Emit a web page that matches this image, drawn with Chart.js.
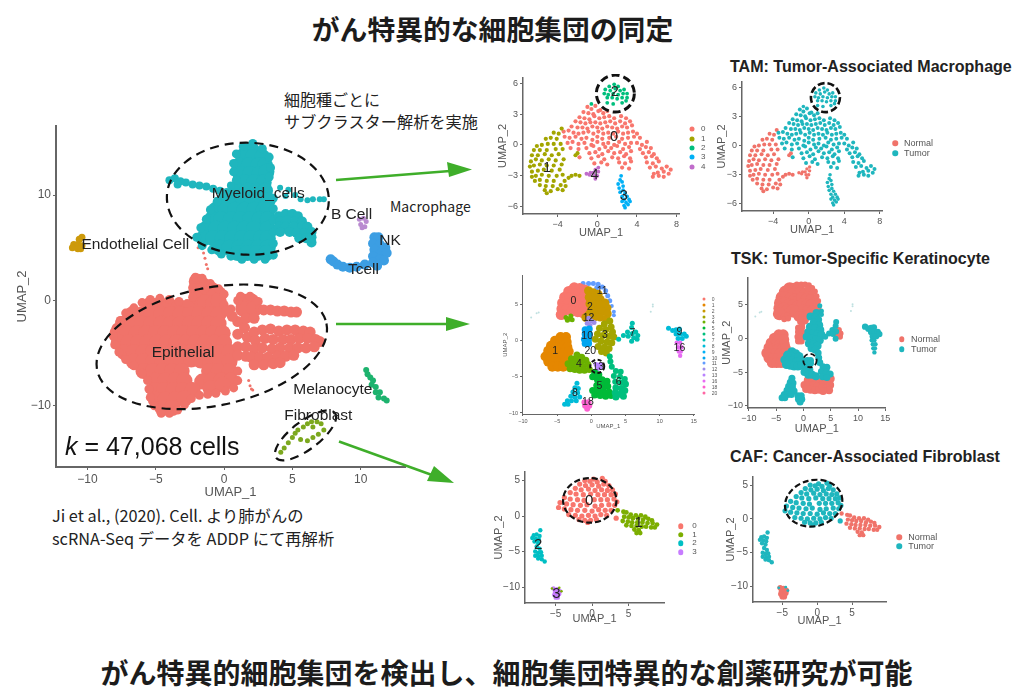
<!DOCTYPE html>
<html>
<head>
<meta charset="utf-8">
<script src="https://cdn.jsdelivr.net/npm/chart.js"></script>
<style>
  body{margin:0;background:#fff;width:1024px;height:698px;overflow:hidden;position:relative;font-family:"Noto Sans CJK JP","Noto Sans",sans-serif;color:#222}
  canvas{position:absolute;filter:blur(.55px)}
  .t{position:absolute;white-space:nowrap;transform:translateY(-50%);line-height:1.2}
  .h{font:bold 27.8px "Noto Sans CJK JP";color:#1c1c1c;transform:translate(-50%,-50%)}
  .p{font:bold 16.05px "Liberation Sans";color:#222}
  .lg{position:absolute;color:#555;font-family:"Liberation Sans";white-space:nowrap;transform:translateY(-50%);line-height:1.2;filter:blur(.3px)}
  .dot{position:absolute;border-radius:50%;transform:translate(-50%,-50%)}
  svg{position:absolute;left:0;top:0}
</style>
</head>
<body>
<div class="t h" style="left:492.5px;top:28px">がん特異的な細胞集団の同定</div>
<div class="t h" style="left:506.5px;top:672px;font-size:28px">がん特異的細胞集団を検出し、細胞集団特異的な創薬研究が可能</div>
<div class="t" style="left:284px;top:100px;font-size:16px">細胞種ごとに</div>
<div class="t" style="left:284px;top:122px;font-size:16.2px">サブクラスター解析を実施</div>
<div class="t" style="left:390px;top:206px;font-size:14px">Macrophage</div>
<div class="t" style="left:52px;top:516px;font-size:16.3px">Ji et al., (2020). Cell. より肺がんの</div>
<div class="t" style="left:52px;top:539px;font-size:16.3px">scRNA-Seq データを ADDP にて再解析</div>
<div class="t p" style="left:730px;top:66px">TAM: Tumor-Associated Macrophage</div>
<div class="t p" style="left:731px;top:258px">TSK: Tumor-Specific Keratinocyte</div>
<div class="t p" style="left:730px;top:456px">CAF: Cancer-Associated Fibroblast</div>

<script>
// ---- overview UMAP
const epithelialCore=[[-2,1.8],[-1.5,1.4],[-0.9,1],[-0.4,0.6],[-2,0.9],[-1.4,0.6],[-0.8,0.3],[-2,0.1],[-1.4,-0.2],[-0.8,-0.3],[-0.4,0],[1.4,-0.1],[2,-0.1],[1.4,-0.8],[2.2,-0.8],
[-5.4,-0.4],[-4.7,-0.4],[-4,-0.5],[-3.3,-0.6],[-2.6,-0.8],
[-6.7,-1.3],[-6,-1.3],[-5.3,-1.3],[-4.6,-1.3],[-3.9,-1.3],[-3.2,-1.3],[-2.5,-1.3],[-1.8,-1.3],[-1.1,-1.3],[-0.4,-1.3],
[-7.4,-2.2],[-6.7,-2.2],[-6,-2.2],[-5.3,-2.2],[-4.6,-2.2],[-3.9,-2.2],[-3.2,-2.2],[-2.5,-2.2],[-1.8,-2.2],[-1.1,-2.2],[-0.4,-2.2],
[-7.8,-3.1],[-7.1,-3.1],[-6.4,-3.1],[-5.7,-3.1],[-5,-3.1],[-4.3,-3.1],[-3.6,-3.1],[-2.9,-3.1],[-2.2,-3.1],[-1.5,-3.1],[-0.8,-3.1],[-0.1,-3.1],
[-7.7,-4],[-7,-4],[-6.3,-4],[-5.6,-4],[-4.9,-4],[-4.2,-4],[-3.5,-4],[-2.8,-4],[-2.1,-4],[-1.4,-4],[-0.7,-4],[0,-4],
[-7.3,-4.9],[-6.6,-4.9],[-5.9,-4.9],[-5.2,-4.9],[-4.5,-4.9],[-3.8,-4.9],[-3.1,-4.9],[-2.4,-4.9],[-1.7,-4.9],[-1,-4.9],[-0.3,-4.9],[0.4,-4.9],
[-6.6,-5.8],[-5.9,-5.8],[-5.2,-5.8],[-4.5,-5.8],[-3.8,-5.8],[-3.1,-5.8],[-2.4,-5.6],[-1.7,-5.7],[-1,-5.8],[-0.3,-5.8],[0.4,-5.8],
[-5.9,-6.7],[-5.2,-6.7],[-4.5,-6.7],[-3.8,-6.7],[-3.1,-6.7],[-1.1,-6.7],[-0.4,-6.7],[0.4,-6.7],
[-5,-7.6],[-4.3,-7.6],[-3.6,-7.6],[-2.9,-7.6],[-1.6,-7.7],[-0.9,-7.6],[-0.2,-7.6],[0.5,-7.6],
[-5.1,-8.5],[-4.4,-8.5],[-3.7,-8.5],[-3,-8.5],[-2.3,-8.5],[-1,-8.3],[-0.1,-8],
[-5,-9.4],[-4.3,-9.4],[-3.6,-9.4],[-2.9,-9.3],[-4.5,-10.2],[-3.8,-10.2]];
const epithelialRim=[[-8.1,-3.4],[-7.9,-2.6],[-7.6,-1.9],[-7.2,-1.2],[-6.6,-0.7],[-6,-0.2],[-5.4,0.1],[-4.7,0.2],[-4,0.1],[-3.3,-0.1],[-2.7,-0.3],[-2.3,0.3],[-2.3,1.2],[-2.1,2.2],[-1.6,2.1],[-1,1.6],[-0.4,1.1],[0,0.6],[0,-0.4],[0.5,-0.8],[1,0],[1.2,0.4],[1.9,0.4],[2.5,-0.1],[2.6,-0.8],[-8,-4.2],[-7.7,-4.9],[-7.2,-5.6],[-6.6,-6.2],[-6,-6.9],[-5.6,-7.6],[-5.5,-8.4],[-5.4,-9.2],[-5.1,-10],[-4.6,-10.7],[-4,-10.7],[-3.4,-10.4],[-2.9,-9.9],[-2.4,-9.3],[-1.8,-9],[-1.2,-8.9],[-0.6,-8.8],[0.1,-8.6],[0.7,-8.3],[1,-7.6],[1,-6.7]];
const epithelialArm=[[2.9,-0.9],[3.4,-0.9],[3.9,-1],[4.4,-1],[4.9,-1.1],[5.3,-1.1],[1,-2],[1.5,-2.6],[1,-3.2],[1.7,-3.5],[1,-4.4],[1.6,-4.4],[1,-5.2],[1.6,-5.3],[2.2,-3],[2.8,-2.8],[3.4,-2.7],[4,-2.9],[4.6,-2.8],[5.2,-2.8],[5.8,-2.9],[6.3,-3],[2.3,-3.8],[3,-3.6],[3.6,-3.7],[4.3,-3.7],[4.9,-3.7],[5.5,-3.6],[6.1,-3.6],[6.7,-3.7],[7,-3.9],[2.2,-4.6],[2.8,-4.5],[3.5,-4.6],[4.1,-4.5],[4.8,-4.5],[5.4,-4.5],[6,-4.5],[6.6,-4.4],[2,-5.4],[2.6,-5.4],[3.2,-5.4],[3.9,-5.3],[4.5,-5.3],[5.1,-5.2],[2.2,-6.1],[2.9,-6.1],[3.6,-6],[4.1,-5.9],[0.6,-1.5],[0.2,-1],[1.6,-1.7],[2.2,-1.7]];
const epithelialStray=[[1.8,-7.6],[1.9,-8.1],[2.1,-8.5],[2,-8.4],[-1.5,4.5],[-1.4,4],[-1.3,3.4],[-1.2,3],[-1.9,5]];
const myeloidCore=[[2,14.3],[1.4,13.7],[2.1,13.6],[2.8,13.6],[1.1,12.8],[1.8,12.8],[2.5,12.8],[3,12.8],[1.2,12],[1.9,12],[2.6,12],[3.1,12.2],[1.5,11.2],[2.2,11.2],[2.9,11.2],
[1,10.4],[1.7,10.4],[2.4,10.4],[3,10.4],[0,9.5],[0.7,9.5],[1.4,9.5],[2.1,9.5],[2.8,9.5],[3.2,9.5],[-0.6,8.6],[0.1,8.6],[0.8,8.6],[1.5,8.6],[2.2,8.6],[2.9,8.6],[3.2,8.6],
[-0.9,7.7],[-0.2,7.7],[0.5,7.7],[1.2,7.7],[1.9,7.7],[2.6,7.7],[3.2,7.7],[-1.3,6.8],[-0.6,6.8],[0.1,6.8],[0.8,6.8],[1.5,6.8],[2.2,6.8],[3.2,6.8],[-1.5,5.9],[-0.8,5.9],[-0.1,5.9],[0.6,5.9],[1.3,5.9],[2,5.9],[2.7,5.9],[3.2,5.9],
[-0.3,5],[0.4,5],[1.1,5],[1.8,5],[2.5,5],[3.2,5],[1,4.5],[1.7,4.5],[2.4,4.5],[3.1,4.5]];
const myeloidRim=[[0.7,13],[0.9,13.9],[1.4,14.6],[2.1,14.9],[2.8,14.4],[3.3,13.6],[3.4,12.6],[3.3,11.7],[0.7,12.2],[0.9,11.4],[0.5,10],[-0.5,9.4],[-1,8.6],[-1.3,7.7],[-1.7,6.9],[-2,6],[-1.6,5.2],[-0.9,4.8],[-0.2,4.4],[0.5,4.2],[1.3,3.9],[2.2,3.9],[3,3.9],[3.6,4.3],[3.6,5.4],[3.6,6.5],[3.6,7.6],[3.6,8.7],[3.6,9.7]];
const myeloidArm=[[-4,11.4],[-3.6,11.6],[-3.2,11.3],[-3.4,11],[-2.8,11.2],[-2.3,11],[-1.8,10.9],[-1.3,10.8],[-0.8,10.6],[-0.3,10.4],[0.2,10.3],[0.5,10.9]];
const myeloidLobe=[[4,8],[4.5,8.2],[5,8.2],[5.4,8],[4.1,7.5],[4.6,7.6],[5.2,7.5],[5.7,7.5],[4,7],[4.5,7],[5.1,7],[5.7,7],[6.1,7],[4.1,6.5],[4.8,6.5],[5.3,6.4],[5.9,6.4],[6.4,6.5],[5.5,5.9],[6,5.9],[6.4,5.5],[6.4,6]];
const myeloidTail=[[4.1,10.7],[4.7,10.5],[5.2,10],[4.5,9.9],[5.6,9.6],[6.5,9.6],[7,9.6],[7.3,9.6],[6.1,9.5]];
const endothelial=[[-11,5.3],[-10.7,5.3],[-10.4,5.2],[-10.6,5.8],[-10.4,6],[-11.1,5],[-10.7,4.9],[-10.5,4.9]];
const bCell=[[9.9,7.7],[10.2,7.8],[10.4,7.5],[10,7.2],[10.3,7],[10.1,6.9]];
const tNk=[[11,6],[11.3,6],[10.9,5.4],[11.4,5.3],[11.8,5],[11,4.8],[11.5,4.5],[11.9,4.5],[10.9,4.2],[11.4,3.9],[11.7,3.8],[10.9,3.6],[11.2,3.3],[10.3,3.4],[9.7,3.2],[9.2,3.1],[8.7,3.2],[8.3,3.4],[8,3.7],[7.8,3.9]];
const melanocyte=[[10.4,-6.6],[10.5,-7],[10.7,-7.3],[10.9,-7.6],[10.8,-8],[11.1,-8.2],[11.1,-8.7],[11.4,-8.7],[11.3,-9.2],[11.7,-9.3],[11.9,-9.5]];
const fibroblastMain=[[4.15,-14.4],[4.4,-14],[4.7,-13.5],[5,-13],[5.2,-12.6],[5.4,-12.3],[5.8,-12],[6.1,-11.7],[6.4,-11.5],[6.8,-11.5],[7.1,-11.7],[6.5,-12],[6.1,-13.3],[6.5,-13],[6.9,-12.7],[7.3,-12.3],[5.6,-13.2]];
// ---- macrophage clusters
const mac0=[[-1,3.7],[-0.6,3.5],[-0.2,3.8],[0.3,3.4],[-1.4,3.2],[-0.9,3.1],[-0.4,3],[0.1,3.3],[0.6,3.1],[1,3.3],[-1.8,2.7],[-1.3,2.6],[-0.8,2.5],[-0.3,2.8],[0.2,2.6],[0.7,2.7],[1.2,2.8],[1.7,2.6],[2.4,2.8],[2.9,2.6],[-2.2,2.3],[-1.7,2.2],[-1.2,2.1],[-0.7,2.2],[-0.2,2.2],[0.3,2.1],[0.8,2.2],[1.3,2.3],[1.8,2.1],[2.3,2.3],[2.8,2.1],[3.3,2.3],[-2.6,1.8],[-2,1.7],[-1.5,1.7],[-1,1.6],[-0.5,1.8],[0,1.7],[0.5,1.6],[1,1.8],[1.5,1.7],[2,1.6],[2.5,1.8],[3,1.7],[3.5,1.9],[-3.4,1.3],[-2.9,1.4],[-2.4,1.2],[-1.9,1.1],[-1.4,1.2],[-0.9,1.3],[-0.4,1.1],[0.1,1.3],[0.6,1.1],[1.1,1.2],[1.6,1.1],[2.1,1.3],[2.6,1.1],[3.1,1.2],[3.6,1.3],[4,1.1],[-3.3,0.8],[-2.8,0.7],[-2.2,0.8],[-1.6,0.6],[-1.1,0.7],[-0.5,0.5],[0,0.8],[0.5,0.6],[1.2,0.7],[1.9,0.8],[2.5,0.6],[3.1,0.7],[3.7,0.8],[4.3,0.7],[-3,0.2],[-2.5,0.3],[-1.9,0.1],[-1.3,0.2],[-0.6,0],[0,0.3],[0.6,0.1],[1.1,0.2],[1.7,0],[2.2,0.3],[2.8,0.1],[3.4,0.2],[4,0.2],[4.5,0],[5,0.3],[-2.7,-0.3],[-1.9,-0.4],[-1.1,-0.3],[-0.4,-0.1],[0.2,-0.4],[0.8,-0.2],[1.4,-0.3],[2,-0.1],[2.6,-0.4],[3.2,-0.2],[4.3,-0.4],[4.9,-0.2],[5.4,-0.3],[-0.8,-0.8],[-0.2,-0.7],[0.5,-0.9],[1.1,-0.6],[1.7,-0.8],[2.3,-0.7],[2.9,-0.9],[3.4,-0.6],[4.6,-0.8],[5.2,-0.7],[5.7,-0.9],[-1.8,-1.2],[-0.6,-1.3],[0.1,-1.1],[0.7,-1.4],[1.5,-1.2],[2.1,-1.3],[2.7,-1.1],[3.3,-1.3],[4.9,-1.2],[5.5,-1.1],[6,-1.3],[-0.3,-1.8],[0.4,-1.7],[1,-1.9],[2.2,-1.7],[2.8,-1.8],[3.4,-1.6],[5,-1.7],[5.6,-1.8],[6.2,-1.6],[2.5,-2.2],[3.2,-2.3],[5.3,-2.2],[5.9,-2.1],[6.5,-2.3],[7,-2.1],[7.4,-2.4],[5.7,-2.8],[6.1,-2.7],[6.7,-2.6],[7.2,-2.8],[5.6,-3.1],[6.2,-3],[6.7,-3.1]];
const mac1=[[-3.6,1.6],[-3.9,1.1],[-4.4,1.2],[-4.1,0.6],[-4.7,0.7],[-5.2,0.6],[-3.7,0.1],[-4.4,0.1],[-5,0.1],[-5.6,0],[-6.1,-0.1],[-3.5,-0.4],[-4.2,-0.4],[-5.1,-0.5],[-5.8,-0.5],[-6.4,-0.5],[-3.9,-0.9],[-4.6,-1],[-5.3,-0.9],[-6,-1],[-6.6,-1],[-3.4,-1.4],[-4.2,-1.5],[-4.9,-1.4],[-5.6,-1.5],[-6.2,-1.4],[-6.7,-1.6],[-3.6,-1.9],[-4.4,-2],[-5.1,-2],[-5.8,-1.9],[-6.4,-2],[-6.8,-2.1],[-3.8,-2.4],[-4.6,-2.5],[-5.4,-2.4],[-6,-2.5],[-6.6,-2.6],[-3.5,-2.9],[-4.1,-3],[-4.9,-3],[-5.6,-2.9],[-6.2,-3],[-6.6,-3.1],[-4.4,-3.5],[-5.1,-3.5],[-5.8,-3.4],[-6.3,-3.5],[-3.3,-3.5],[-3.7,-3.9],[-4.5,-4],[-5.2,-4],[-5.8,-3.9],[-3.2,-4],[-4,-4.3],[-4.7,-4.5],[-5.3,-4.4],[-5.1,-4.7],[-3.5,-4.4],[-2.9,-3.2],[-2.6,-3],[-2.2,-2.9],[-1.8,-3],[-2.2,-1],[-2,-0.8]];
const mac2=[[1.7,5.9],[1.2,5.7],[2.1,5.7],[0.8,5.4],[1.3,5.3],[1.8,5.5],[2.3,5.3],[2.7,5.4],[0.7,5],[1.1,4.9],[1.6,5],[2.1,4.9],[2.6,5],[3,5],[1,4.6],[1.5,4.6],[2,4.5],[2.5,4.6],[1,4.1],[1.6,4],[2.5,4.1],[2.9,4.3],[-0.6,4],[3,4.6]];
const mac3=[[2.4,-3],[2.3,-3.4],[2.5,-3.6],[2.1,-3.8],[2.6,-4],[2.2,-4.2],[2.6,-4.4],[2.3,-4.6],[2.8,-4.7],[2.5,-5],[3,-5],[2.7,-5.3],[3.2,-5.3],[2.5,-5.5],[2.9,-5.6],[3.3,-5.5],[2.7,-5.9],[3.1,-5.8],[2.8,-6.1]];
const mac4=[[0.1,-2.2],[-0.2,-2.4],[0.1,-2.6],[-0.4,-2.7],[-0.7,-2.7],[-1.1,-2.8],[-0.3,-3],[0,-3],[-0.2,-3.3],[-0.8,-2.9]];
// ---- keratinocyte clusters
const ker0=[[-2.5,7.3],[-1.7,7.2],[-1,7],[-3.3,6.8],[-2.6,6.5],[-1.8,6.4],[-1,6.2],[-3.9,6],[-3.2,5.9],[-2.4,5.7],[-1.6,5.6],[-0.9,5.4],[-4.2,5.2],[-3.4,5.1],[-2.6,4.9],[-1.8,4.8],[-1,4.6],[-4.3,4.4],[-3.6,4.3],[-2.8,4.1],[-2,4],[-4.4,3.6],[-1.3,3.9]];
const ker1=[[-4.5,0.5],[-3.7,0.5],[-5.3,0],[-4.5,-0.2],[-3.6,-0.2],[-5.9,-0.7],[-5.1,-0.9],[-4.3,-0.9],[-3.5,-0.9],[-6.3,-1.4],[-5.5,-1.6],[-4.7,-1.6],[-3.9,-1.6],[-3.3,-1.5],[-6.7,-2.2],[-5.9,-2.3],[-5.1,-2.3],[-4.3,-2.3],[-3.5,-2.3],[-6.3,-2.9],[-5.5,-3],[-4.7,-3],[-3.9,-3],[-5.7,-3.6],[-4.9,-3.6],[-4.1,-3.6]];
const ker2=[[-0.4,6.9],[0.3,6.6],[1,6.4],[-0.3,6],[0.5,5.8],[1.3,5.7],[2,5.2],[-0.2,5.1],[0.6,5],[1.4,4.9],[2.3,4.5],[0,4.2],[0.8,4.1],[1.6,4],[-0.4,3.5],[0.5,3.3],[-0.8,3.2]];
const ker2Low=[[2.4,3.7],[1.3,3.2],[2.2,3]];
const ker3=[[2.7,2.7],[1.9,2.3],[2.9,1.9],[1.2,1.7],[2.1,1.5],[3.1,1.2],[0.9,0.9],[1.7,0.7],[2.6,0.6],[3.3,0.5],[0.6,0.2],[1.4,-0.1],[2.3,-0.2],[3,-0.3],[1,-0.8],[1.9,-0.9],[2.6,-1.1],[1.5,-1.5],[2.2,-1.7]];
const ker4=[[-2.1,-2],[-1.4,-2.3],[-2.9,-2.5],[-2.2,-2.7],[-1.5,-2.9],[-0.8,-2.7],[-3.4,-3.2],[-2.7,-3.3],[-2,-3.4],[-1.3,-3.5],[-0.5,-3.3],[-3.1,-3.9],[-2.4,-4],[-1.7,-4.1],[-1,-4.1],[-0.3,-4]];
const ker5=[[0.5,-4.4],[1.1,-4.7],[0.2,-5],[0.9,-5.4],[1.6,-5.4],[2.3,-5.6]];
const ker5Low=[[0.8,-6.2],[1.6,-6.2],[2.4,-6.3],[0.2,-6.9],[1,-6.9],[1.8,-7],[2.6,-7.1],[0.5,-7.5],[1.3,-7.6],[2.1,-7.7],[2.9,-7.6]];
const ker6=[[2.7,-2.2],[2.8,-2.9],[3,-3.6],[3.6,-4.2],[4.3,-4.3],[3.3,-4.9],[4.2,-5],[4.9,-5.3],[3.5,-5.7],[4.3,-5.8]];
const ker6Low=[[5,-6],[3.6,-6.5],[4.4,-6.6],[4.9,-6.9],[3.5,-7.2],[4.2,-7.4],[4.7,-7.7],[3.6,-7.8]];
const ker7=[[6,2.4],[5.9,1.8],[5.3,1.2],[6,1],[4.7,0.7],[5.4,0.6],[4,0.2],[5.9,-0.1]];
const ker7Right=[[6.5,1.2],[6.8,0.7],[6.2,0.4],[6.7,0.2]];
const ker8=[[-2.1,-5.9],[-2.4,-6.5],[-1.9,-6.6],[-2.7,-7.1],[-2,-7.2],[-3,-7.7],[-2.4,-7.8],[-1.7,-7.8],[-3.5,-8.3],[-2.9,-8.3],[-2.2,-8.3],[-3.9,-8.8],[-3.4,-8.8]];
const ker9=[[11.3,1.7],[11.9,1.4],[12.4,1.5],[12.9,1.6],[12.4,0.9],[13,0.9],[13.6,0.9],[12.7,0.3],[13.3,0.3],[13.9,0.6]];
const ker10=[[-0.9,1.5],[-0.3,1.6],[-0.9,0.9],[-0.3,0.9],[-1,0.2],[-0.4,0.2],[-0.9,-0.4],[-0.4,-0.4]];
const ker11=[[-1.2,7.9],[-0.4,7.9],[0.3,7.9],[1,7.8],[1.6,7.4],[2.1,6.9],[0.8,7.3],[2.4,6.2],[2.7,5.5]];
const ker11Tail=[[3,4.8],[3.3,4],[3.3,3.5]];
const ker12=[[-0.4,3.1],[0,2.7],[-0.6,2.4],[-0.2,2.1],[0.4,2.5]];
const ker13=[[0.7,-3.3],[1.3,-3.3],[0.9,-3.9],[1.3,-3.7]];
const ker14=[[-3.7,3.2],[-3.2,3],[-3,3.4],[-3.5,2.8],[-2.8,2.9]];
const ker16=[[12.5,-0.3],[13,-0.3],[12.7,-0.9],[13.2,-0.9],[12.8,-1.5],[13.1,-1.5],[13,-2.1]];
const ker18=[[-1,-8.5],[-0.4,-8.5],[-0.9,-9],[-0.3,-9],[-0.6,-9.4]];
const kerStray=[[-8.8,3.2],[-8,3.8],[-7.7,3.9],[9,4.7],[9,5],[8.7,4]];
// ---- fibroblast clusters
const fib0=[[0.2,5.2],[1.4,5.3],[-1,5],[-0.3,4.9],[0.7,4.8],[1.8,4.9],[-1.7,4.5],[-0.9,4.3],[0,4.4],[0.9,4.2],[1.6,4.5],[2.3,4.3],[-2.3,3.9],[-1.5,3.7],[-0.5,3.8],[0.4,3.6],[1.3,3.7],[2.1,3.6],[2.8,3.7],[-3,3.3],[-2.2,3.1],[-1.2,3],[-0.2,3.1],[0.8,3],[1.7,3],[2.6,3],[3.2,3.1],[-3.8,2.6],[-3,2.4],[-2,2.3],[-1.1,2.2],[0.3,2.3],[1.2,2.3],[2.1,2.3],[3,2.4],[3.4,2],[-4.4,1.9],[-3.5,1.7],[-2.6,1.6],[-1.6,1.5],[-0.7,1.6],[0.4,1.4],[1.3,1.5],[2.3,1.6],[3.1,1.5],[-4.6,1.2],[-3.8,1],[-2.9,0.9],[-2,0.8],[-1,0.8],[0,0.7],[0.9,0.9],[1.8,0.8],[2.6,0.8],[-3.2,0.2],[-2.3,0.1],[-1.4,0],[-0.5,0.1],[0.4,0],[1.2,0.2],[2,0.1],[-1.8,-0.5],[-1,-0.6],[-0.2,-0.6],[0.6,-0.5],[-0.6,-0.9],[3.3,-0.3]];
const fib1=[[3.5,0.8],[4.3,0.6],[4.7,0.5],[5.3,0.2],[6,0.1],[6.7,0.1],[7.3,-0.1],[4.4,-0.1],[5,-0.2],[5.6,-0.3],[6.3,-0.3],[7,-0.5],[7.7,-0.4],[8.2,-0.6],[4.2,-0.7],[4.9,-0.8],[5.5,-0.9],[6.2,-0.9],[6.9,-0.9],[7.6,-1],[8.3,-1],[8.9,-1.2],[4.7,-1.3],[5.4,-1.4],[6.1,-1.4],[6.8,-1.5],[7.4,-1.5],[8.1,-1.6],[8.6,-1.6],[5.8,-1.9],[6.4,-2],[6.6,-2.4],[6.1,-2.4]];
const fib2=[[-7.1,-2],[-8,-2.7],[-7.6,-2.6],[-7.2,-2.8],[-8.2,-3.1],[-7.7,-3.2],[-7.3,-3.3],[-7.9,-3.6],[-7.4,-3.8],[-7.6,-4.3],[-7.2,-4.6],[-7.8,-5],[-7.4,-5.2],[-7,-5.1],[-7.8,-5.6],[-7.3,-5.7],[-6.9,-5.6],[-7.4,-6],[-6.9,-6.1],[-6.5,-6.4]];
const fib3=[[-5.3,-10.2],[-4.8,-10.3],[-4.4,-10.6],[-5.1,-10.7],[-4.7,-10.8],[-5.2,-11.1],[-4.8,-11.2],[-4.5,-11],[-5,-11.5],[-4.7,-11.5]];
const fib3Top=[[-4.5,-10.1],[-4.2,-10.6],[-5.5,-10.2]];

const tickMain=[-10,-5,0,5,10], tickMainY=[-10,0,10];
const tickMac=[-4,0,4,8], tickMacY=[-6,-3,0,3,6];
const tickKer=[-10,-5,0,5,10,15], tickKerY=[-10,-5,0,5];
const tickFib=[-5,0,5], tickFibY=[-10,-5,0,5];
const labelsMain=[['Myeloid_cells',2.5,10.1],['Endothelial Cell',-6.5,5.3],['Epithelial',-3,-5],['B Cell',9.33,8.16],['NK',12.15,5.7],['Tcell',10.2,2.9],['Melanocyte',7.96,-8.5],['Fibroblast',6.9,-10.95]];
const labelsMac=[['0',1.68,0.75],['1',-5.08,-2.24],['2',1.75,5.16],['3',2.66,-4.94],['4',-0.27,-2.95]];
const labelsKer=[['0',-2.6,5.4],['11',1.6,6.85],['2',-0.2,4.66],['12',-0.4,3.1],['10',-0.6,0.6],['3',2,0.8],['7',6,1],['9',12.9,1.2],['16',12.9,-1.05],['1',-5.3,-1.5],['20',-0.15,-1.46],['4',-1.8,-3.2],['13',1,-3.65],['5',1.2,-6.25],['6',4,-5.7],['8',-2.4,-7.3],['18',-0.5,-8.5]];
const labelsFib=[['0',-0.4,2.2],['1',6.4,-0.94],['2',-7.4,-4.1],['3',-4.9,-10.9]];
const legendConditions=['Normal','Tumor'];
const legendMac=['0','1','2','3','4'];
const legendKer=['0','1','2','3','4','5','6','7','8','9','10','11','12','13','16','18','20'];
const legendFib=['0','1','2','3'];

const RED='#F0736A', TEAL='#1FB6BE', DASH='#111';
const macColors=['#F8766D','#A3A500','#00BF7D','#00B0F6','#C06CCB'];
const kerColors=['#F8766D','#E58700','#C99800','#A3A500','#6BB100','#00BA38','#00BF7D','#00C0AF','#00BCD8','#00B0F6','#00A5F0','#619CFF','#9E8CE8','#B983FF','#E76BF3','#FD61D1','#FF67A4'];
const fibColors=['#F8766D','#7CAE00','#00BFC4','#C77CFF'];

const overlay={id:'overlay',afterDatasetsDraw(c,a,o){
  const ctx=c.ctx,sx=c.scales.x,sy=c.scales.y;
  ctx.save();
  (o.ellipses||[]).forEach(e=>{
    ctx.beginPath();ctx.ellipse(sx.getPixelForValue(e.x),sy.getPixelForValue(e.y),e.rx,e.ry,e.rot||0,0,Math.PI*2);
    ctx.strokeStyle=DASH;ctx.lineWidth=e.w||2.2;ctx.setLineDash(e.dash||[9,6]);ctx.stroke();
  });
  ctx.setLineDash([]);ctx.fillStyle='#222';ctx.textAlign='center';ctx.textBaseline='middle';ctx.font=o.font;
  (o.labels||[]).forEach(l=>ctx.fillText(l[0],sx.getPixelForValue(l[1]),sy.getPixelForValue(l[2])));
  ctx.restore();
}};

function panel(p){
  // box = axis left/top/right/bottom in page pixels
  const pl=p.pl,pb=p.pb,pt=4,pr=4,c=document.createElement('canvas');
  c.width=p.box[2]-p.box[0]+pl+pr;c.height=p.box[3]-p.box[1]+pb+pt;
  c.style.left=(p.box[0]-pl)+'px';c.style.top=(p.box[1]-pt)+'px';
  document.body.appendChild(c);
  const axis=(min,max,ticks,text,fit)=>({type:'linear',min,max,
    afterBuildTicks:s=>{s.ticks=ticks.map(v=>({value:v}))},
    afterFit:fit,
    grid:{drawOnChartArea:false,tickLength:p.tick||3,color:'#666'},
    border:{color:'#666',width:p.axisW||1.5},
    ticks:{color:'#555',font:{size:p.tickSize,family:'Liberation Sans'},padding:p.tickPad||2,maxRotation:0,autoSkip:false,callback:v=>String(v).replace('-','\u2212')},
    title:{display:true,text,color:'#555',font:{size:p.titleSize,family:'Liberation Sans'},padding:0}});
  new Chart(c,{type:'scatter',
    data:{datasets:p.sets.map(s=>({data:s[0].map(q=>({x:q[0],y:q[1]})),backgroundColor:s[1],borderWidth:0,pointRadius:s[2]})).reverse()},
    options:{responsive:false,animation:false,events:[],
      layout:{padding:{top:pt,right:pr}},
      scales:{
        x:axis(p.xr[0],p.xr[1],p.xt,'UMAP_1',s=>{s.height=pb;s.paddingLeft=0;s.paddingRight=0}),
        y:axis(p.yr[0],p.yr[1],p.yt,'UMAP_2',s=>{s.width=pl;s.paddingTop=0;s.paddingBottom=0})},
      plugins:{legend:{display:false},tooltip:{enabled:false},overlay:{ellipses:p.ellipses,labels:p.labels,font:p.labelFont}}},
    plugins:[overlay]});
}
function legend(names,colors,dotX,textX,y0,dy,size,dot){
  names.forEach((n,i)=>{
    const d=document.createElement('div');d.className='dot';
    d.style.cssText=`left:${dotX}px;top:${y0+dy*i}px;width:${dot}px;height:${dot}px;background:${colors[i]}`;
    const t=document.createElement('div');t.className='lg';t.textContent=n;
    t.style.cssText=`left:${textX}px;top:${y0+dy*i}px;font-size:${size}px`;
    document.body.append(d,t);
  });
}

panel({box:[56,122,409,467],pl:41,pb:33,xr:[-12.3,13.24],yr:[-15.8,16.55],xt:tickMain,yt:tickMainY,tickSize:12,titleSize:13,axisW:2,labelFont:'15.5px "Liberation Sans"',labels:labelsMain,
  sets:[[epithelialCore,RED,8],[epithelialRim,RED,4.5],[epithelialArm,RED,5.5],[epithelialStray,RED,1.5],[myeloidCore,TEAL,8],[myeloidRim,TEAL,4.5],[myeloidArm,TEAL,4],[myeloidLobe,TEAL,5],[myeloidTail,TEAL,3],[endothelial,'#CD9A0B',3.5],[bCell,'#B98BD0',2.5],[tNk,'#3C9EE3',5],[melanocyte,'#1DB36E',3],[fibroblastMain,'#7CA81E',2.5]],
  ellipses:[{x:1.74,y:9.65,rx:81,ry:56,rot:0.03},{x:-0.9,y:-4.4,rx:117,ry:59,rot:-0.2},{x:5.96,y:-12.8,rx:37,ry:14,rot:-0.65}]});

panel({box:[523,78,679,214],pl:27,pb:26,xr:[-7.5,8.24],yr:[-6.72,6.52],xt:tickMac,yt:tickMacY,tickSize:9,titleSize:11,labelFont:'14.5px "Liberation Sans"',labels:labelsMac,
  sets:[[mac0,macColors[0],2.1],[mac1,macColors[1],2.1],[mac2,macColors[2],1.9],[mac3,macColors[3],1.9],[mac4,macColors[4],1.9]],
  ellipses:[{x:1.82,y:5,rx:19,ry:18.5,w:3,dash:[8,4]}]});
legend(legendMac,macColors,692,701,129.3,9.33,8,5);

panel({box:[742,82,882,211],pl:27,pb:26,xr:[-7.5,8.24],yr:[-6.72,6.52],xt:tickMac,yt:tickMacY,tickSize:9,titleSize:11,labelFont:'10px "Liberation Sans"',
  sets:[[mac1,RED,2],[mac4,RED,1.7],[mac0,TEAL,2],[mac2,TEAL,1.8],[mac3,TEAL,1.8]],
  ellipses:[{x:1.88,y:4.92,rx:14.5,ry:14.5,w:2.6,dash:[7,3]}]});
legend(legendConditions,[RED,TEAL],895,904,143.3,10,9,5.5);

panel({box:[522,274,696,414],pl:20,pb:16,xr:[-10.14,15.1],yr:[-10.14,9],xt:tickKer,yt:tickKerY,tickSize:5.5,titleSize:6,tick:2,axisW:1,labelFont:'10.5px "Liberation Sans"',labels:labelsKer,
  sets:[[ker11,kerColors[11],2.5],[ker11Tail,kerColors[11],2],[ker0,kerColors[0],5.5],[ker2,kerColors[2],4.5],[ker2Low,kerColors[2],4],[ker14,kerColors[4],2.5],[ker12,kerColors[12],2.5],[ker10,kerColors[10],3.5],[ker3,kerColors[3],3.5],[ker1,kerColors[1],5],[ker4,kerColors[4],3.5],[ker13,kerColors[13],2.5],[ker5,kerColors[5],3.5],[ker5Low,kerColors[5],3.5],[ker6,kerColors[6],3],[ker6Low,kerColors[6],3.5],[ker7,kerColors[7],2.5],[ker7Right,kerColors[7],2.5],[ker8,kerColors[8],2.5],[ker18,kerColors[15],3],[ker9,kerColors[8],2.5],[ker16,kerColors[14],2.2],[kerStray,'#bfe0e0',1]],
  ellipses:[{x:0.87,y:-3.56,rx:7,ry:6.7,w:2,dash:[4,2.5]}]});
legend(legendKer,kerColors,704.3,711.7,299,5.85,5,3);

panel({box:[748,275,888,408],pl:28,pb:28,xr:[-10.14,15.03],yr:[-10.3,8.95],xt:tickKer,yt:tickKerY,tickSize:9,titleSize:11,labelFont:'10px "Liberation Sans"',
  sets:[[ker0,RED,6.5],[ker2,RED,5.5],[ker1,RED,5.5],[ker11,RED,3],[ker10,RED,3.5],[ker12,RED,3],[ker14,RED,3],[ker5Low,RED,4],[ker6Low,RED,4],[ker7Right,RED,3],[ker2Low,TEAL,4],[ker11Tail,TEAL,2.5],[ker3,TEAL,4],[ker4,TEAL,4.5],[ker13,TEAL,3.5],[ker5,TEAL,4],[ker6,TEAL,3.5],[ker7,TEAL,3],[ker8,TEAL,3.5],[ker18,TEAL,3.5],[ker9,TEAL,3.2],[ker16,TEAL,2.2],[kerStray,'#bfe0e0',1]],
  ellipses:[{x:1.2,y:-3.3,rx:6.7,ry:6.7,w:1.8,dash:[5,3]}]});
legend(legendConditions,[RED,TEAL],901.7,911,339,10,9,5.5);

panel({box:[525,472,664,603],pl:33,pb:23,xr:[-9.2,9.86],yr:[-12.25,6.2],xt:tickFib,yt:tickFibY,tickSize:10,titleSize:11,labelFont:'15px "Liberation Sans"',labels:labelsFib,
  sets:[[fib0,fibColors[0],2.6],[fib1,fibColors[1],2.4],[fib2,fibColors[2],2.2],[fib3,fibColors[3],2.2],[fib3Top,fibColors[1],1.3]],
  ellipses:[{x:-0.32,y:2.2,rx:26.7,ry:22.3,w:2.2,dash:[6,3]}]});
legend(legendFib,fibColors,680.7,692.3,526,8.67,8,5.5);

panel({box:[753,477,886,602],pl:29,pb:26,xr:[-9.19,9.86],yr:[-12.29,6.2],xt:tickFib,yt:tickFibY,tickSize:10,titleSize:11,labelFont:'10px "Liberation Sans"',
  sets:[[fib1,RED,2.2],[fib3,RED,2.8],[fib0,TEAL,2.6],[fib2,TEAL,2.2],[fib3Top,TEAL,1.4]],
  ellipses:[{x:-0.5,y:2.33,rx:29,ry:23,rot:-0.25,w:2.2,dash:[6,3]}]});
legend(legendConditions,[RED,TEAL],899.3,908.3,537,9.3,9,5.5);

document.body.insertAdjacentHTML('beforeend',`<svg width="1024" height="698">
 <g stroke="#3FAE2A" stroke-width="2.4" fill="#3FAE2A">
  <line x1="336" y1="180" x2="450" y2="171"/><polygon points="472,169.5 447,162 449,177" stroke="none"/>
  <line x1="336" y1="324" x2="450" y2="324"/><polygon points="470,324 446,317 446,331" stroke="none"/>
  <line x1="339" y1="441.5" x2="432" y2="475"/><polygon points="454,483 434,466 427,481" stroke="none"/>
 </g></svg>`);
document.body.insertAdjacentHTML('beforeend',`<div class="t" style="left:65px;top:446px;font:25px 'Liberation Sans';color:#111"><i>k</i> = 47,068 cells</div>`);
</script>
</body>
</html>
